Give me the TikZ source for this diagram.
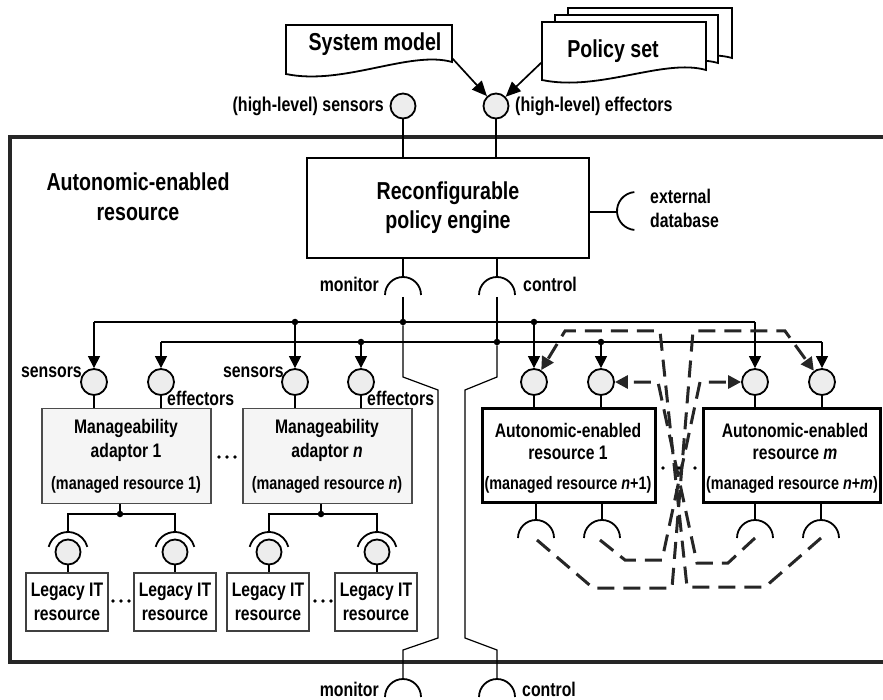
\documentclass[tikz,border=0pt]{standalone}
\usepackage{fontspec}
\setmainfont{Liberation Sans}[FakeStretch=0.8]
\usetikzlibrary{arrows.meta,calc}
\newcommand\dgBig{\fontsize{24.5}{29}\selectfont\bfseries}
\newcommand\dgMid{\fontsize{19.6}{23}\selectfont\bfseries}
\newcommand\dgSm{\fontsize{18}{20}\selectfont\bfseries}
\newcommand\dgLbl{\fontsize{19.8}{24}\selectfont\bfseries}
\newcommand\dgHl{\fontsize{20}{24}\selectfont\bfseries}
\begin{document}
\begin{tikzpicture}[x=1pt,y=-1pt,
  wire/.style={line width=1.2pt},
  port/.style={circle, draw, line width=1.8pt, fill=black!7, minimum size=26pt, inner sep=0pt},
  jdot/.style={circle, fill=black, draw=none, inner sep=0pt, minimum size=6.5pt},
  sdot/.style={circle, fill=black, draw=none, inner sep=0pt, minimum size=3.8pt},
  arr/.style={-{Triangle[length=12pt,width=12pt]}},
  cup/.style={line width=1.8pt},
  dline/.style={line width=3pt, dash pattern=on 17pt off 9pt, black!85},
  darr/.style={-{Triangle[length=13pt,width=13pt]}},
  docline/.style={line width=1.8pt, fill=white, line join=miter},
  adbox/.style={draw=black!70, line width=1.3pt, fill=black!4, minimum width=169pt, minimum height=95pt, inner sep=0pt},
  lgbox/.style={draw=black!75, line width=1.3pt, fill=white, minimum width=82pt, minimum height=58pt, inner sep=0pt, font=\dgMid, align=center},
  aerbox/.style={draw, line width=3pt, fill=white, minimum height=94pt, inner sep=0pt},
  txt/.style={inner sep=0pt, align=center}
]
\useasboundingbox (0,0) rectangle (883,700);
\clip (0,0) rectangle (883,700);

% ---------- outer box ----------
\draw[line width=3.5pt, black!85] (10,137) rectangle (905,662);
\node[txt, font=\dgBig] (title) at (138,197) {Autonomic-enabled\\[1pt]resource};

% ---------- documents ----------
\draw[docline] (568,8) -- (732,8) -- (732,58) .. controls (690,46) and (625,80) .. (568,68) -- cycle;
\draw[docline] (555,15) -- (718,15) -- (718,63) .. controls (676,51) and (611,85) .. (555,73) -- cycle;
\draw[docline] (542,22) -- (706,22) -- (706,70) .. controls (664,58) and (599,92) .. (542,80) -- cycle;
\draw[docline] (286,25) -- (452,25) -- (452,62) .. controls (410,50) and (343,86) .. (286,74) -- cycle;
\node[txt, font=\dgBig] (smT) at (375,44) {System model};
\node[txt, font=\dgBig] (psT) at (613,51) {Policy set};

% ---------- high-level ports ----------
\node[port, minimum size=25pt] (hs) at (403,106) {};
\node[port, minimum size=25pt] (he) at (496,106) {};
\node[txt, font=\dgHl, anchor=east] (hsL) at (384,106) {(high-level) sensors};
\node[txt, font=\dgHl, anchor=west] (heL) at (515,106) {(high-level) effectors};
\coordinate (smA) at (452,58);
\coordinate (psA) at (542,62);
\draw[line width=1.7pt, -{Triangle[length=15pt,width=13pt]}] (smA) -- (he);
\draw[line width=1.7pt, -{Triangle[length=15pt,width=13pt]}] (psA) -- (he);

% ---------- policy engine ----------
\node[draw, line width=2pt, minimum width=282pt, minimum height=100pt, inner sep=0pt, font=\dgBig, align=center] (eng) at (448,208) {Reconfigurable\\policy engine};
\draw[wire] (hs) -- (hs |- eng.north);
\draw[wire] (he) -- (he |- eng.north);

% external database
\coordinate (db) at (617,212);
\draw[wire] (eng.east |- db) -- (db);
\draw[cup] ($(636,211)+(265:19)$) arc[start angle=265, end angle=95, radius=19];
\node[txt, font=\dgLbl, anchor=west, align=left] (dbL) at (650,208) {external\\database};

% top monitor / control sockets
\coordinate (mT) at (403,277);
\coordinate (cT) at (497,277);
\draw[wire] (eng.south -| mT) -- (mT);
\draw[wire] (eng.south -| cT) -- (cT);
\draw[cup] (385,295) arc[start angle=180, end angle=360, radius=18];
\draw[cup] (479,295) arc[start angle=180, end angle=360, radius=18];
\node[txt, font=\dgLbl, anchor=east] (monL) at (379,284) {monitor};
\node[txt, font=\dgLbl, anchor=west] (conL) at (523,284) {control};

% ---------- buses ----------
\coordinate (b1l) at (94,322);
\coordinate (b1r) at (755,322);
\coordinate (b2l) at (161,342);
\coordinate (b2r) at (822,342);
\draw[wire] (b1l) -- (b1r);
\draw[wire] (b2l) -- (b2r);
\node[jdot] (j1) at (295,322) {};
\node[jdot] (jm) at (403,322) {};
\node[jdot] (j3) at (534,322) {};
\node[jdot] (j2) at (361,342) {};
\node[jdot] (jc) at (497,342) {};
\node[jdot] (j4) at (601,342) {};

% monitor / control routes
\coordinate (mU) at (403,297);
\coordinate (cU) at (497,297);
\coordinate (mB) at (403,679);
\coordinate (cB) at (497,679);
\draw[wire] (mU) -- (jm);
\draw[wire] (jm) -- (403,377) -- (438,390) -- (438,638) -- (403,650) -- (mB);
\draw[wire] (cU) -- (jc);
\draw[wire] (jc) -- (497,377) -- (465,390) -- (465,638) -- (497,650) -- (cB);
\draw[cup] (385,697) arc[start angle=180, end angle=360, radius=18];
\draw[cup] (479,697) arc[start angle=180, end angle=360, radius=18];
\node[txt, font=\dgLbl, anchor=east] (monB) at (379,689) {monitor};
\node[txt, font=\dgLbl, anchor=west] (conB) at (522,689) {control};

% ---------- ports row ----------
\node[port] (s1) at (94,382) {};
\node[port] (e1) at (161,382) {};
\node[port] (s2) at (295,382) {};
\node[port] (e2) at (361,382) {};
\node[port] (r1s) at (534,382) {};
\node[port] (r1e) at (601,382) {};
\node[port] (rms) at (755,382) {};
\node[port] (rme) at (822,382) {};
\draw[wire, arr] (b1l) -- (s1);
\draw[wire, arr] (j1) -- (s2);
\draw[wire, arr] (j3) -- (r1s);
\draw[wire, arr] (b1r) -- (rms);
\draw[wire, arr] (b2l) -- (e1);
\draw[wire, arr] (j2) -- (e2);
\draw[wire, arr] (j4) -- (r1e);
\draw[wire, arr] (b2r) -- (rme);

\node[txt, font=\dgLbl, anchor=east] (sL1) at (82,372) {sensors};
\node[txt, font=\dgLbl, anchor=east] (sL2) at (284,372) {sensors};
\node[txt, font=\dgLbl, anchor=west] (eL1) at (167,398) {effectors};
\node[txt, font=\dgLbl, anchor=west] (eL2) at (367,398) {effectors};

% ---------- manageability adaptors ----------
\node[adbox] (ad1) at (126.5,456) {};
\node[adbox] (ad2) at (327.5,456) {};
\node[txt, font=\dgMid] (ad1T) at (126,440) {Manageability\\[1pt]adaptor 1};
\node[txt, font=\dgSm] (ad1M) at (126,485) {(managed resource 1)};
\node[txt, font=\dgMid] (ad2T) at (327,440) {Manageability\\[1pt]adaptor \textit{n}};
\node[txt, font=\dgSm] (ad2M) at (327,485) {(managed resource \textit{n})};
\draw[wire] (s1) -- (s1 |- ad1.north);
\draw[wire] (e1) -- (e1 |- ad1.north);
\draw[wire] (s2) -- (s2 |- ad2.north);
\draw[wire] (e2) -- (e2 |- ad2.north);
\node[sdot] (d1a) at (219,457) {};
\node[sdot] (d1b) at (227,457) {};
\node[sdot] (d1c) at (235,457) {};

% ---------- legacy resources ----------
\node[lgbox] (lg1) at (67,602) {Legacy IT\\[1pt]resource};
\node[lgbox] (lg2) at (175,602) {Legacy IT\\[1pt]resource};
\node[lgbox] (lg3) at (268,602) {Legacy IT\\[1pt]resource};
\node[lgbox] (lg4) at (376,602) {Legacy IT\\[1pt]resource};
\node[port, minimum size=25pt] (lb1) at (68,552) {};
\node[port, minimum size=25pt] (lb2) at (175,552) {};
\node[port, minimum size=25pt] (lb3) at (269,552) {};
\node[port, minimum size=25pt] (lb4) at (377,552) {};
\foreach \c in {lb1,lb2,lb3,lb4}{
  \draw[wire] (\c.south) -- (\c.south |- lg1.north);
  \draw[cup] ($(\c)+(195:20)$) arc[start angle=195, end angle=345, radius=20];
}
\node[jdot] (jd1) at (120,514) {};
\node[jdot] (jd2) at (321,514) {};
\draw[wire] (ad1.south -| jd1) -- (jd1);
\draw[wire] (ad2.south -| jd2) -- (jd2);
\draw[wire] (68,532) -- (68,514) -- (175,514) -- (175,532);
\draw[wire] (269,532) -- (269,514) -- (377,514) -- (377,532);
\node[sdot] (d2a) at (113,601) {};
\node[sdot] (d2b) at (121,601) {};
\node[sdot] (d2c) at (129,601) {};
\node[sdot] (d3a) at (315,601) {};
\node[sdot] (d3b) at (323,601) {};
\node[sdot] (d3c) at (331,601) {};

% ---------- autonomic-enabled resources ----------
\node[aerbox, minimum width=173pt] (aer1) at (568.5,455) {};
\node[aerbox, minimum width=177pt] (aerm) at (792,455) {};
\node[txt, font=\dgMid] (aer1T) at (568,441) {Autonomic-enabled\\[-1pt]resource 1};
\node[txt, font=\dgSm] (aer1M) at (568,485) {(managed resource \textit{n}+1)};
\node[txt, font=\dgMid] (aermT) at (795,441) {Autonomic-enabled\\[-1pt]resource \textit{m}};
\node[txt, font=\dgSm] (aermM) at (792,485) {(managed resource \textit{n}+\textit{m})};
\draw[wire] (r1s) -- (r1s |- aer1.north);
\draw[wire] (r1e) -- (r1e |- aer1.north);
\draw[wire] (rms) -- (rms |- aerm.north);
\draw[wire] (rme) -- (rme |- aerm.north);
\foreach \x in {536,602,755,821}{
  \draw[wire] (\x,502) -- (\x,520);
  \draw[cup] (\x-18,538) arc[start angle=180, end angle=360, radius=18];
}

% ---------- dashed cross connections ----------
\draw[dline, darr] (821,538) -- (765,587) -- (687,587) -- (660,331) -- (565,331) -- (r1s);
\draw[dline, darr] (537,540) -- (593,588) -- (672,588) -- (693,331) -- (785,331) -- (rme);
\draw[dline, darr] (755,538) -- (728,563) -- (697,563) -- (658,382) -- (r1e);
\draw[dline, darr] (600,540) -- (625,560) -- (662,560) -- (700,382) -- (rms);
\node[sdot] (m1) at (663,468) {};
\node[sdot] (m2) at (679,468) {};
\node[sdot] (m3) at (695,468) {};
\end{tikzpicture}
\end{document}
